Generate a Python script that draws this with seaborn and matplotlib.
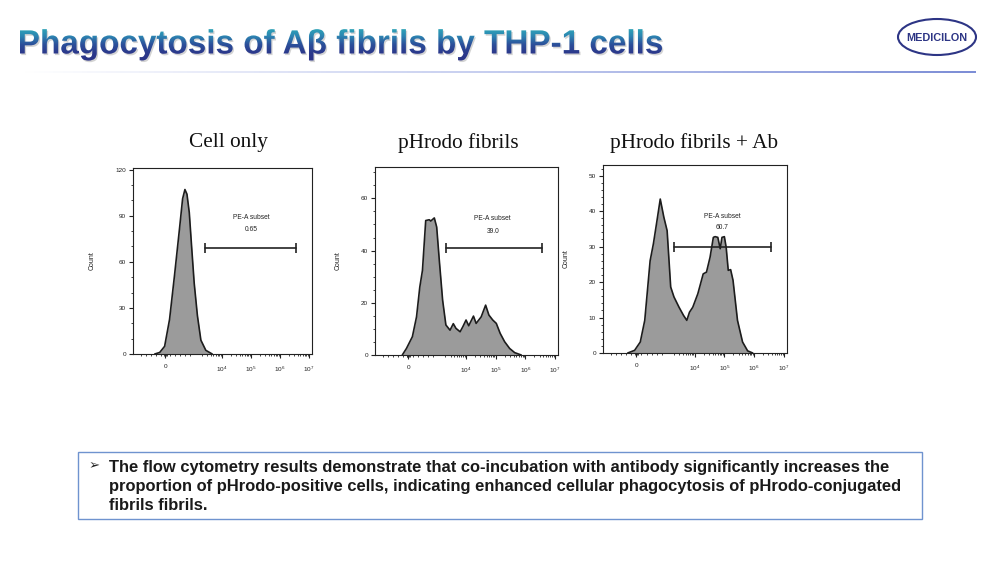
import numpy as np
import pandas as pd
import matplotlib
matplotlib.use("Agg")
import matplotlib.pyplot as plt
import seaborn as sns
from matplotlib.textpath import TextPath
from matplotlib.font_manager import FontProperties
from matplotlib.patches import PathPatch, Ellipse, Rectangle
from matplotlib.transforms import Affine2D
from matplotlib.colors import LinearSegmentedColormap

# ---------------- data ----------------
title = "Phagocytosis of A\u03b2 fibrils by THP-1 cells"
panel_titles = ["Cell only", "pHrodo fibrils", "pHrodo fibrils + Ab"]
subset_values = ["0.65", "39.0", "60.7"]
subset_name = "PE-A subset"
note = ("The flow cytometry results demonstrate that co-incubation with antibody significantly increases the\n"
        "proportion of pHrodo-positive cells, indicating enhanced cellular phagocytosis of pHrodo-conjugated\n"
        "fibrils fibrils.")

# x positions in display-decade units of the biexponential PE-A axis
cell_only_x = [1.68, 1.85, 2.02, 2.19, 2.36, 2.53, 2.64, 2.72, 2.79, 2.87, 2.95, 3.04, 3.15, 3.27, 3.44, 3.66]
cell_only_count = [0, 1, 5, 22.5, 51, 81, 101, 107, 104, 92, 70, 46, 25, 9, 2.4, 0]

fibrils_x = [1.85, 1.99, 2.19, 2.33, 2.44, 2.53, 2.64, 2.76, 2.81, 2.93, 3.01, 3.10, 3.21, 3.32, 3.46,
             3.57, 3.66, 3.80, 3.89, 4.00, 4.09, 4.25, 4.34, 4.51, 4.66, 4.77, 4.90, 5.02, 5.15, 5.30,
             5.47, 5.64, 5.86]
fibrils_count = [0, 2.5, 7, 14.6, 26, 32.4, 51.5, 51.8, 51.3, 52.5, 49, 36, 21, 11.5, 9.5,
                 12, 10.2, 8.9, 10.8, 13.4, 11.2, 14.9, 12.1, 14.6, 19.1, 15.3, 13.4, 12.1, 8.3, 5.1,
                 2.5, 0.9, 0]

fibrils_ab_x = [1.76, 1.99, 2.18, 2.33, 2.51, 2.62, 2.74, 2.85, 2.97, 3.08, 3.20, 3.31, 3.48, 3.63, 3.74,
                3.83, 3.94, 4.11, 4.29, 4.40, 4.52, 4.63, 4.69, 4.78, 4.86, 4.92, 5.00, 5.06, 5.13, 5.21,
                5.29, 5.44, 5.61, 5.78, 5.95]
fibrils_ab_count = [0, 0.75, 3.1, 9.2, 26, 30.8, 37.3, 43.4, 38.3, 34.5, 18.6, 15.8, 12.9, 10.6, 9.2,
                    11.5, 12.9, 16.7, 22.3, 22.8, 27, 32.6, 32.8, 32.6, 29.4, 32.6, 32.8, 29.8, 23.3, 23.5,
                    20.5, 9.2, 3.1, 0.6, 0]

gate_start = [3.41, 3.34, 3.31]
gate_end = [6.56, 6.55, 6.55]
gate_level = [69, 41, 30]
label_x = [5.0, 4.9, 4.92]
label_name_y = [88.5, 52.3, 38.6]
label_value_y = [80.7, 47.4, 35.5]

y_ticks = [[0, 30, 60, 90, 120], [0, 20, 40, 60], [0, 10, 20, 30, 40, 50]]
y_minor_step = [10, 5, 2]
y_max = [121, 72, 53]

x_tick_pos = [2.05, 4, 5, 6, 7]
x_tick_labels = ["0", "$10^4$", "$10^5$", "$10^6$", "$10^7$"]

# ---------------- style ----------------
sns.set_theme(style="ticks")
plt.rcParams["font.family"] = ["Liberation Sans", "DejaVu Sans"]
plt.rcParams["mathtext.default"] = "regular"

fig = plt.figure(figsize=(10, 5.62), dpi=100)
fig.patch.set_facecolor("white")

# background overlay in pixel coordinates
bg = fig.add_axes([0, 0, 1, 1], zorder=-1)
bg.axis("off")

# title with vertical gradient
fp = FontProperties(family="Liberation Sans", weight="bold")
tp = TextPath((0, 0), title, size=1, prop=fp)
ext = tp.get_extents()
sx = 642 / ext.width
sy = 24.5 / 0.729
tr = Affine2D().scale(sx, -sy).translate(20 - ext.x0 * sx, 53.5)
shadow = PathPatch(tp, transform=tr + Affine2D().translate(1.3, 1.6) + bg.transData,
                   facecolor="#a8a8a8", edgecolor="none", alpha=0.5)
bg.add_patch(shadow)
tpatch = PathPatch(tp, transform=tr + bg.transData, facecolor="none", edgecolor="none")
bg.add_patch(tpatch)
grad_cmap = LinearSegmentedColormap.from_list("tg", ["#2eaab8", "#2c86b2", "#2c4f9a", "#2b388b", "#2a3286"])
grad = np.linspace(0, 1, 100).reshape(-1, 1)
im = bg.imshow(grad, extent=[15, 670, 62, 27], cmap=grad_cmap, aspect="auto", zorder=3)
im.set_clip_path(tpatch)

# separator line with gradient
line_cmap = LinearSegmentedColormap.from_list("lg", ["#ffffff", "#c5cdef", "#7d8ed6"])
bg.imshow(np.linspace(0, 1, 200).reshape(1, -1), extent=[20, 976, 73, 71], cmap=line_cmap, aspect="auto")

# logo
bg.add_patch(Ellipse((937, 37), 78, 36, facecolor="white", edgecolor="#2d3585", lw=1.5))
bg.text(937, 38, "MEDICILON", ha="center", va="center", fontsize=7.8, fontweight="bold", color="#2d3585")

# panel titles
title_x = [228, 458, 694]
for tx, pt in zip(title_x, panel_titles):
    bg.text(tx, 143, pt, ha="center", va="center", family=["Liberation Serif"], fontsize=15.3,
            color="#111111")

# note box
bg.add_patch(Rectangle((78, 452), 844, 67, facecolor="white", edgecolor="#6f93cf", lw=1.0))
bg.text(89, 466, "\u27a2", ha="left", va="center", fontsize=9.5, color="#222222", family=["DejaVu Sans"])
bg.text(109, 486.5, note, ha="left", va="center", fontsize=11.9, fontweight="bold", color="#1a1a1a",
        linespacing=1.3)

bg.set_xlim(0, 1000)
bg.set_ylim(562, 0)

# ---------------- panels ----------------
axes_px = [(133, 312, 168, 354), (375, 558, 167, 355), (603, 787, 165, 353)]
series = [(cell_only_x, cell_only_count), (fibrils_x, fibrils_count), (fibrils_ab_x, fibrils_ab_count)]

minor_x = []
for d in [3, 4, 5, 6]:
    minor_x += [d + np.log10(k) for k in range(2, 10)]
minor_x += [2.05 - 0.17 * k for k in range(1, 6)] + [2.05 + 0.17 * k for k in range(1, 6)]
minor_x += [2.0, 2.02, 2.08, 2.1]

for i, (l, r, t, b) in enumerate(axes_px):
    ax = fig.add_axes([l / 1000, 1 - b / 562, (r - l) / 1000, (b - t) / 562])
    ax.set_facecolor("white")
    df = pd.DataFrame({"x": series[i][0], "count": series[i][1]})
    ax.fill_between(df["x"], df["count"], 0, color="#9b9b9b", lw=0, zorder=1)
    sns.lineplot(data=df, x="x", y="count", ax=ax, color="#1c1c1c", lw=1.2, sort=False,
                 estimator=None, zorder=2)
    ax.plot([gate_start[i], gate_end[i]], [gate_level[i], gate_level[i]], color="#222222", lw=1.2,
            marker="|", markersize=7, mew=1.2, zorder=3)
    ax.text(label_x[i], label_name_y[i], subset_name, ha="center", va="center", fontsize=4.8, color="#222222")
    ax.text(label_x[i], label_value_y[i], subset_values[i], ha="center", va="center", fontsize=4.8,
            color="#222222")
    ax.set_xlim(0.93, 7.1)
    ax.set_ylim(0, y_max[i])
    ax.set_xticks(x_tick_pos)
    ax.set_xticklabels(x_tick_labels)
    ax.set_xticks(minor_x, minor=True)
    ax.set_yticks(y_ticks[i])
    ax.set_yticks(np.arange(0, y_max[i], y_minor_step[i]), minor=True)
    ax.tick_params(axis="both", which="major", length=3, width=0.8, labelsize=4.6, pad=2,
                   color="#222222", labelcolor="#222222")
    ax.tick_params(axis="x", which="major", pad=4.5)
    ax.tick_params(axis="both", which="minor", length=1.5, width=0.6, color="#222222")
    ax.set_xlabel("")
    ax.set_ylabel("Count", fontsize=5, color="#222222", labelpad=14)
    for s in ax.spines.values():
        s.set_visible(True)
        s.set_color("#222222")
        s.set_linewidth(0.8)

fig.savefig("out.png", dpi=100, facecolor="white")
